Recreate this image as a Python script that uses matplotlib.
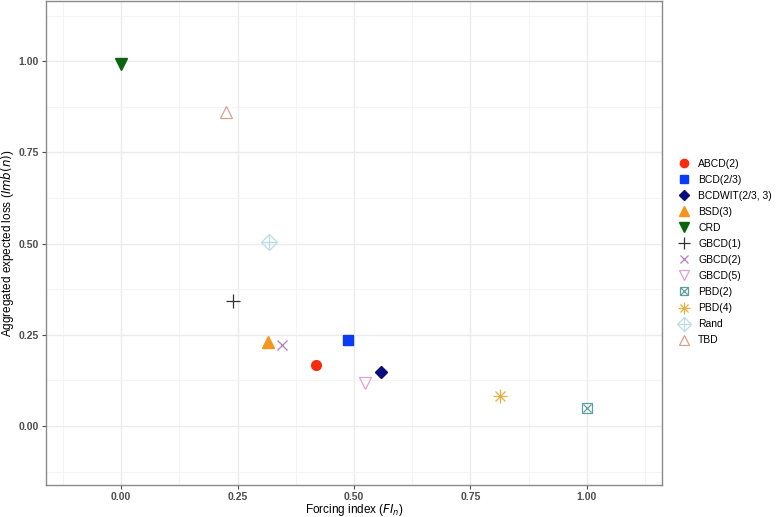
import numpy as np
import matplotlib
matplotlib.use("Agg")
import matplotlib.pyplot as plt
from matplotlib.legend_handler import HandlerTuple

# design names, forcing index, aggregated expected loss
designs = ["ABCD(2)", "BCD(2/3)", "BCDWIT(2/3, 3)", "BSD(3)", "CRD", "GBCD(1)",
           "GBCD(2)", "GBCD(5)", "PBD(2)", "PBD(4)", "Rand", "TBD"]
forcing = [0.419, 0.487, 0.559, 0.316, 0.0, 0.240, 0.346, 0.524, 1.0, 0.813, 0.318, 0.225]
loss = [0.168, 0.235, 0.147, 0.230, 0.993, 0.342, 0.221, 0.119, 0.050, 0.081, 0.504, 0.860]

colores = ["#F82B10", "#0A3CF5", "#0B0B80", "#F7941D", "#0B6410", "#333333",
           "#B27CC7", "#DDA0DD", "#5F9EA0", "#E3B040", "#B8DCE6", "#D4A28E"]

plt.rcParams['font.family'] = ['Liberation Sans', 'DejaVu Sans']

fig = plt.figure(figsize=(7.77, 5.17), dpi=100)
ax = fig.add_axes([46/777, 1 - 485/517, 616/777, 484/517])

# cada diseño con su propio marcador (algunos son dos marcadores encimados)
estilos = {
    "ABCD(2)": [dict(marker="o", ms=7, filled=True)],
    "BCD(2/3)": [dict(marker="s", ms=6.5, filled=True)],
    "BCDWIT(2/3, 3)": [dict(marker="D", ms=6.5, filled=True)],
    "BSD(3)": [dict(marker="^", ms=9, filled=True)],
    "CRD": [dict(marker="v", ms=9, filled=True)],
    "GBCD(1)": [dict(marker="+", ms=10, filled=False)],
    "GBCD(2)": [dict(marker="x", ms=7.5, filled=False)],
    "GBCD(5)": [dict(marker="v", ms=9, filled=False)],
    "PBD(2)": [dict(marker="s", ms=7, filled=False), dict(marker="x", ms=6, filled=False)],
    "PBD(4)": [dict(marker="+", ms=10, filled=False), dict(marker="x", ms=7, filled=False)],
    "Rand": [dict(marker="D", ms=8, filled=False), dict(marker="+", ms=10, filled=False)],
    "TBD": [dict(marker="^", ms=9, filled=False)],
}

handles = []
for name, fx, lo, c in zip(designs, forcing, loss, colores):
    partes = []
    for st in estilos[name]:
        if st["filled"]:
            h, = ax.plot([fx], [lo], linestyle="none", marker=st["marker"], ms=st["ms"],
                         color=c, markeredgecolor=c, zorder=3)
        else:
            h, = ax.plot([fx], [lo], linestyle="none", marker=st["marker"], ms=st["ms"],
                         markerfacecolor="none", markeredgecolor=c, markeredgewidth=0.9, zorder=3)
        partes.append(h)
    handles.append(tuple(partes))

ax.set_xlim(-0.161, 1.161)
ax.set_ylim(-0.162, 1.165)
ticks = [0, 0.25, 0.5, 0.75, 1.0]
ax.set_xticks(ticks)
ax.set_yticks(ticks)
ax.set_xticklabels(["%.2f" % t for t in ticks])
ax.set_yticklabels(["%.2f" % t for t in ticks])
minor = [-0.125, 0.125, 0.375, 0.625, 0.875, 1.125]
ax.set_xticks(minor, minor=True)
ax.set_yticks(minor, minor=True)
ax.grid(True, which="major", color="#EBEBEB", linewidth=1.0, zorder=0)
ax.grid(True, which="minor", color="#F3F3F3", linewidth=0.6, zorder=0)
ax.set_axisbelow(True)
ax.tick_params(which="minor", length=0)
ax.tick_params(which="major", length=3, color="#4D4D4D", labelsize=7.5, labelcolor="#4D4D4D", pad=2)
for lab in ax.get_xticklabels() + ax.get_yticklabels():
    lab.set_fontweight("bold")
for s in ax.spines.values():
    s.set_color("#8A8A8A")
    s.set_linewidth(1.0)

ax.set_xlabel("Forcing index ($\\mathit{FI}_n$)", fontsize=8.5)
ax.set_ylabel("Aggregated expected loss ($\\mathit{Imb}(n)$)", fontsize=8.5)
ax.xaxis.set_label_coords(0.5, -(502 - 485) / 484)
ax.yaxis.set_label_coords(-(46 - 16) / 616, 0.5)

fig.legend(handles, designs, handler_map={tuple: HandlerTuple(ndivide=1, pad=0)},
           loc="center left", bbox_to_anchor=(666/777, 1 - 252/517), frameon=False,
           fontsize=7.5, labelspacing=0.58, handlelength=1.6, handletextpad=0.6,
           markerscale=0.85)

fig.savefig("out.png", dpi=100)
